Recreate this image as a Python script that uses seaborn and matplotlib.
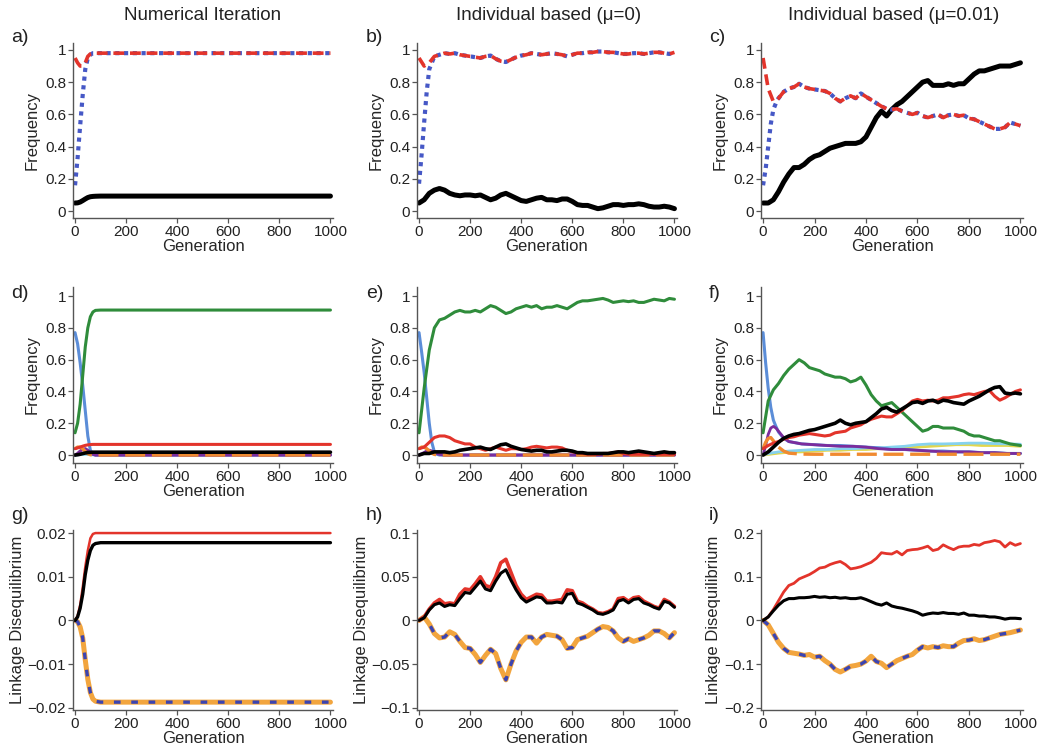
import numpy as np
import matplotlib
matplotlib.use("Agg")
import matplotlib.pyplot as plt
import seaborn as sns

sns.set_theme(style="ticks")
plt.rcParams['font.family'] = ['Liberation Sans', 'DejaVu Sans']
plt.rcParams['axes.unicode_minus'] = True

# ---------------- data ----------------
col_titles = ["Numerical Iteration", "Individual based (\u03bc=0)", "Individual based (\u03bc=0.01)"]
panel_tags = ["a)", "b)", "c)", "d)", "e)", "f)", "g)", "h)", "i)"]
x_ticks = [0, 200, 400, 600, 800, 1000]
x_ticklabels = ["0", "200", "400", "600", "800", "1000"]
freq_ticks = [0, 0.2, 0.4, 0.6, 0.8, 1]
freq_ticklabels = ["0", "0.2", "0.4", "0.6", "0.8", "1"]
ld_ticks_g = [-0.02, -0.01, 0, 0.01, 0.02]
ld_labels_g = ["\u22120.02", "\u22120.01", "0", "0.01", "0.02"]
ld_ticks_h = [-0.1, -0.05, 0, 0.05, 0.1]
ld_labels_h = ["\u22120.1", "\u22120.05", "0", "0.05", "0.1"]
ld_ticks_i = [-0.2, -0.1, 0, 0.1, 0.2]
ld_labels_i = ["\u22120.2", "\u22120.1", "0", "0.1", "0.2"]

gen_num = [0, 10, 20, 30, 40, 50, 60, 70, 80, 100, 200, 300, 400, 500, 600, 700, 800, 900, 1000]
gen20 = list(range(0, 1001, 20))
gen_early = [0, 10, 20, 30, 40, 50, 60, 80, 100, 150, 200, 250, 300, 350, 400, 450, 500,
             550, 600, 650, 700, 750, 800, 850, 900, 950, 1000]

# panel a
a_red = [0.95, 0.92, 0.90, 0.90, 0.92, 0.96, 0.975, 0.98, 0.98, 0.98, 0.98, 0.98, 0.98, 0.98, 0.98, 0.98, 0.98, 0.98, 0.98]
a_blue = [0.16, 0.33, 0.53, 0.72, 0.88, 0.95, 0.97, 0.98, 0.98, 0.98, 0.98, 0.98, 0.98, 0.98, 0.98, 0.98, 0.98, 0.98, 0.98]
a_black = [0.05, 0.051, 0.056, 0.065, 0.075, 0.084, 0.089, 0.091, 0.092, 0.093, 0.093, 0.093, 0.093, 0.093, 0.093, 0.093, 0.093, 0.093, 0.093]

# panel b
b_red = [0.95, 0.90, 0.92, 0.96, 0.97, 0.98, 0.975, 0.98, 0.97, 0.965, 0.96, 0.955, 0.95, 0.96, 0.965, 0.945, 0.93,
         0.925, 0.94, 0.955, 0.965, 0.97, 0.98, 0.975, 0.97, 0.975, 0.98, 0.975, 0.97, 0.96, 0.97, 0.98, 0.98, 0.985,
         0.985, 0.99, 0.99, 0.985, 0.985, 0.98, 0.975, 0.975, 0.98, 0.98, 0.975, 0.98, 0.985, 0.985, 0.98, 0.975, 0.985]
b_blue_gen = [0, 10, 20, 30, 40]
b_blue_start = [0.17, 0.35, 0.55, 0.74, 0.88]
b_black = [0.05, 0.07, 0.11, 0.13, 0.14, 0.13, 0.11, 0.10, 0.095, 0.10, 0.10, 0.095, 0.10, 0.085, 0.07, 0.08, 0.10,
           0.11, 0.095, 0.08, 0.065, 0.06, 0.07, 0.08, 0.085, 0.07, 0.07, 0.065, 0.075, 0.075, 0.06, 0.04, 0.035,
           0.035, 0.025, 0.015, 0.02, 0.03, 0.04, 0.04, 0.035, 0.04, 0.04, 0.045, 0.04, 0.03, 0.025, 0.025, 0.03,
           0.025, 0.015]

# panel c
c_red = [0.95, 0.76, 0.68, 0.70, 0.74, 0.76, 0.77, 0.79, 0.77, 0.76, 0.755, 0.75, 0.745, 0.73, 0.70, 0.68, 0.70,
         0.715, 0.70, 0.73, 0.71, 0.69, 0.67, 0.65, 0.635, 0.63, 0.635, 0.62, 0.61, 0.60, 0.61, 0.59, 0.58, 0.59,
         0.60, 0.58, 0.595, 0.60, 0.59, 0.595, 0.575, 0.57, 0.555, 0.54, 0.525, 0.51, 0.51, 0.52, 0.55, 0.54, 0.53]
c_blue_gen = [0, 10, 20, 30, 40, 50]
c_blue_start = [0.16, 0.26, 0.40, 0.54, 0.63, 0.67]
c_black = [0.05, 0.05, 0.07, 0.12, 0.18, 0.23, 0.27, 0.27, 0.29, 0.32, 0.34, 0.35, 0.37, 0.39, 0.40, 0.41, 0.42,
           0.42, 0.42, 0.43, 0.46, 0.52, 0.58, 0.62, 0.59, 0.63, 0.66, 0.68, 0.71, 0.74, 0.77, 0.80, 0.81, 0.78,
           0.78, 0.78, 0.79, 0.78, 0.79, 0.79, 0.82, 0.85, 0.87, 0.87, 0.88, 0.89, 0.90, 0.90, 0.90, 0.91, 0.92]

# panel d
d_green = [0.14, 0.20, 0.32, 0.50, 0.68, 0.80, 0.87, 0.90, 0.91, 0.912, 0.912, 0.912, 0.912, 0.912, 0.912, 0.912, 0.912, 0.912, 0.912]
d_blue = [0.77, 0.70, 0.58, 0.44, 0.28, 0.12, 0.03, 0.005, 0.0, 0.0, 0.0, 0.0, 0.0, 0.0, 0.0, 0.0, 0.0, 0.0, 0.0]
d_red = [0.04, 0.045, 0.05, 0.056, 0.061, 0.064, 0.066, 0.067, 0.067, 0.067, 0.067, 0.067, 0.067, 0.067, 0.067, 0.067, 0.067, 0.067, 0.067]
d_black = [0.0, 0.002, 0.005, 0.009, 0.013, 0.016, 0.017, 0.018, 0.018, 0.018, 0.018, 0.018, 0.018, 0.018, 0.018, 0.018, 0.018, 0.018, 0.018]
d_orange = [0.04, 0.05, 0.05, 0.04, 0.022, 0.008, 0.002, 0.0, 0.0, 0.0, 0.0, 0.0, 0.0, 0.0, 0.0, 0.0, 0.0, 0.0, 0.0]
d_purple = [0.0, 0.01, 0.025, 0.035, 0.04, 0.03, 0.015, 0.005, 0.0, 0.0, 0.0, 0.0, 0.0, 0.0, 0.0, 0.0, 0.0, 0.0, 0.0]
d_cyan = [0.0, 0.002, 0.004, 0.005, 0.005, 0.004, 0.003, 0.002, 0.002, 0.002, 0.002, 0.002, 0.002, 0.002, 0.002, 0.002, 0.002, 0.002, 0.002]

# panel e
e_green = [0.14, 0.42, 0.66, 0.80, 0.85, 0.86, 0.88, 0.90, 0.91, 0.90, 0.90, 0.91, 0.90, 0.92, 0.94, 0.93, 0.91,
           0.89, 0.90, 0.92, 0.93, 0.94, 0.93, 0.94, 0.92, 0.93, 0.93, 0.94, 0.93, 0.92, 0.94, 0.96, 0.97, 0.97,
           0.975, 0.98, 0.985, 0.975, 0.96, 0.965, 0.97, 0.965, 0.97, 0.96, 0.96, 0.97, 0.98, 0.975, 0.97, 0.985, 0.98]
e_blue_gen = [0, 10, 20, 30, 40, 50, 60, 70, 80, 1000]
e_blue = [0.77, 0.65, 0.52, 0.36, 0.20, 0.08, 0.02, 0.005, 0.0, 0.0]
e_red = [0.04, 0.05, 0.08, 0.11, 0.12, 0.12, 0.11, 0.09, 0.08, 0.07, 0.07, 0.05, 0.04, 0.03, 0.04, 0.05, 0.04,
         0.03, 0.04, 0.04, 0.035, 0.04, 0.05, 0.055, 0.05, 0.045, 0.05, 0.05, 0.045, 0.03, 0.02, 0.015, 0.01,
         0.005, 0.005, 0.005, 0.01, 0.01, 0.015, 0.02, 0.01, 0.005, 0.005, 0.005, 0.005, 0.005, 0.005, 0.005,
         0.005, 0.005, 0.005]
e_black = [0.0, 0.01, 0.01, 0.02, 0.02, 0.02, 0.015, 0.02, 0.03, 0.035, 0.04, 0.045, 0.05, 0.04, 0.035, 0.05,
           0.065, 0.07, 0.055, 0.045, 0.035, 0.03, 0.025, 0.03, 0.03, 0.02, 0.02, 0.025, 0.03, 0.03, 0.025, 0.015,
           0.015, 0.01, 0.01, 0.01, 0.01, 0.01, 0.015, 0.02, 0.02, 0.015, 0.02, 0.025, 0.02, 0.015, 0.01, 0.015,
           0.02, 0.015, 0.015]
e_small_gen = [0, 10, 20, 30, 40, 50, 60, 80, 100, 1000]
e_orange = [0.04, 0.05, 0.05, 0.04, 0.025, 0.012, 0.004, 0.0, 0.0, 0.0]
e_purple = [0.0, 0.008, 0.015, 0.025, 0.03, 0.025, 0.015, 0.005, 0.0, 0.0]

# panel f
f_green = [0.14, 0.34, 0.41, 0.45, 0.50, 0.54, 0.57, 0.60, 0.58, 0.55, 0.54, 0.53, 0.51, 0.50, 0.49, 0.49, 0.48,
           0.46, 0.47, 0.49, 0.44, 0.38, 0.34, 0.31, 0.32, 0.33, 0.30, 0.27, 0.24, 0.21, 0.18, 0.15, 0.16, 0.18,
           0.18, 0.17, 0.17, 0.17, 0.16, 0.15, 0.13, 0.12, 0.12, 0.11, 0.10, 0.09, 0.09, 0.08, 0.07, 0.065, 0.06]
f_red = [0.04, 0.06, 0.075, 0.085, 0.10, 0.11, 0.115, 0.125, 0.13, 0.135, 0.13, 0.125, 0.12, 0.125, 0.14, 0.145,
         0.15, 0.17, 0.18, 0.19, 0.21, 0.225, 0.235, 0.245, 0.24, 0.24, 0.26, 0.28, 0.31, 0.34, 0.35, 0.34, 0.345,
         0.34, 0.345, 0.36, 0.36, 0.365, 0.37, 0.38, 0.385, 0.38, 0.39, 0.40, 0.405, 0.37, 0.345, 0.36, 0.38, 0.40, 0.41]
f_black = [0.0, 0.02, 0.05, 0.08, 0.105, 0.12, 0.13, 0.135, 0.145, 0.155, 0.16, 0.17, 0.18, 0.19, 0.20, 0.22, 0.20,
           0.19, 0.20, 0.205, 0.21, 0.235, 0.26, 0.29, 0.30, 0.28, 0.27, 0.29, 0.31, 0.33, 0.335, 0.325, 0.34,
           0.345, 0.33, 0.345, 0.34, 0.33, 0.325, 0.32, 0.34, 0.355, 0.37, 0.39, 0.41, 0.425, 0.43, 0.39, 0.385,
           0.39, 0.385]
f_blue = [0.77, 0.58, 0.42, 0.30, 0.22, 0.18, 0.145, 0.105, 0.085, 0.07, 0.065, 0.06, 0.06, 0.055, 0.05, 0.045,
          0.035, 0.035, 0.03, 0.025, 0.025, 0.02, 0.02, 0.015, 0.015, 0.01, 0.01]
f_purple = [0.0, 0.06, 0.13, 0.17, 0.18, 0.17, 0.15, 0.11, 0.085, 0.07, 0.065, 0.06, 0.055, 0.055, 0.05, 0.04,
            0.035, 0.035, 0.03, 0.025, 0.02, 0.02, 0.02, 0.015, 0.015, 0.01, 0.01]
f_orange = [0.04, 0.08, 0.105, 0.11, 0.09, 0.07, 0.05, 0.025, 0.012, 0.006, 0.005, 0.005, 0.005, 0.005, 0.005,
            0.005, 0.005, 0.005, 0.005, 0.005, 0.005, 0.005, 0.005, 0.005, 0.005, 0.005, 0.005]
f_cyan = [0.0, 0.005, 0.01, 0.012, 0.015, 0.017, 0.02, 0.022, 0.025, 0.03, 0.035, 0.035, 0.04, 0.04, 0.045, 0.045,
          0.05, 0.055, 0.065, 0.07, 0.07, 0.072, 0.075, 0.075, 0.072, 0.07, 0.068]
f_yellow = [0.0, 0.002, 0.004, 0.006, 0.008, 0.01, 0.012, 0.015, 0.018, 0.02, 0.025, 0.03, 0.03, 0.035, 0.035,
            0.04, 0.04, 0.045, 0.05, 0.055, 0.06, 0.065, 0.065, 0.06, 0.06, 0.06, 0.055]

# panel g
g_red = [0.0, 0.001, 0.0035, 0.0075, 0.0122, 0.016, 0.0188, 0.0198, 0.02, 0.02, 0.02, 0.02, 0.02, 0.02, 0.02, 0.02, 0.02, 0.02, 0.02]
g_black = [0.0, 0.0008, 0.0028, 0.006, 0.0105, 0.0138, 0.016, 0.0172, 0.0176, 0.0178, 0.0178, 0.0178, 0.0178, 0.0178, 0.0178, 0.0178, 0.0178, 0.0178, 0.0178]
g_orange = [0.0, -0.0003, -0.0015, -0.004, -0.009, -0.0135, -0.0165, -0.018, -0.0185, -0.0187, -0.0187, -0.0187, -0.0187, -0.0187, -0.0187, -0.0187, -0.0187, -0.0187, -0.0187]
g_blue = g_orange

# panel h
h_red = [0.0, 0.004, 0.013, 0.02, 0.024, 0.019, 0.02, 0.019, 0.03, 0.036, 0.035, 0.042, 0.05, 0.04, 0.038, 0.05,
         0.066, 0.07, 0.055, 0.04, 0.03, 0.024, 0.027, 0.03, 0.029, 0.022, 0.022, 0.023, 0.024, 0.035, 0.034, 0.022,
         0.02, 0.016, 0.013, 0.009, 0.008, 0.01, 0.013, 0.025, 0.026, 0.022, 0.026, 0.027, 0.022, 0.019, 0.016,
         0.014, 0.024, 0.021, 0.016]
h_black = [0.0, 0.003, 0.012, 0.018, 0.02, 0.016, 0.018, 0.017, 0.025, 0.032, 0.031, 0.038, 0.045, 0.036, 0.034,
           0.045, 0.054, 0.058, 0.046, 0.035, 0.026, 0.021, 0.024, 0.027, 0.026, 0.02, 0.02, 0.021, 0.02, 0.03,
           0.031, 0.02, 0.018, 0.015, 0.012, 0.008, 0.007, 0.009, 0.012, 0.022, 0.024, 0.02, 0.024, 0.025, 0.02,
           0.018, 0.015, 0.013, 0.022, 0.02, 0.015]
h_orange = [0.0, 0.004, -0.004, -0.015, -0.02, -0.019, -0.013, -0.016, -0.024, -0.031, -0.032, -0.039, -0.048,
            -0.04, -0.033, -0.038, -0.055, -0.068, -0.05, -0.035, -0.025, -0.019, -0.019, -0.026, -0.019, -0.016,
            -0.017, -0.018, -0.022, -0.032, -0.031, -0.022, -0.02, -0.018, -0.014, -0.01, -0.007, -0.008, -0.012,
            -0.02, -0.024, -0.021, -0.024, -0.022, -0.02, -0.017, -0.012, -0.012, -0.015, -0.02, -0.014]
h_blue = h_orange

# panel i
i_red = [0.0, 0.008, 0.025, 0.045, 0.065, 0.08, 0.085, 0.095, 0.10, 0.105, 0.112, 0.12, 0.122, 0.128, 0.132, 0.135,
         0.128, 0.118, 0.12, 0.123, 0.128, 0.133, 0.142, 0.155, 0.153, 0.152, 0.158, 0.15, 0.16, 0.162, 0.163, 0.166,
         0.17, 0.16, 0.163, 0.173, 0.167, 0.162, 0.168, 0.17, 0.17, 0.174, 0.172, 0.178, 0.18, 0.183, 0.18, 0.168,
         0.178, 0.172, 0.176]
i_black = [0.0, 0.008, 0.022, 0.035, 0.045, 0.05, 0.05, 0.052, 0.052, 0.053, 0.055, 0.053, 0.054, 0.052, 0.053,
           0.051, 0.052, 0.05, 0.05, 0.052, 0.048, 0.043, 0.038, 0.035, 0.04, 0.033, 0.03, 0.028, 0.025, 0.022,
           0.018, 0.012, 0.015, 0.017, 0.016, 0.018, 0.016, 0.016, 0.014, 0.017, 0.012, 0.012, 0.01, 0.01, 0.008,
           0.008, 0.006, 0.003, 0.005, 0.005, 0.004]
i_orange = [0.0, -0.01, -0.03, -0.05, -0.064, -0.073, -0.075, -0.077, -0.08, -0.078, -0.084, -0.082, -0.092, -0.1,
            -0.112, -0.118, -0.112, -0.105, -0.103, -0.1, -0.093, -0.082, -0.094, -0.098, -0.108, -0.1, -0.092,
            -0.087, -0.082, -0.078, -0.068, -0.06, -0.063, -0.06, -0.062, -0.058, -0.06, -0.06, -0.052, -0.046,
            -0.045, -0.042, -0.046, -0.044, -0.04, -0.036, -0.032, -0.03, -0.028, -0.025, -0.022]
i_blue = i_orange

# ---------------- styling ----------------
RED = "#e3342b"
BLUE_DOT = "#4658c6"
BLACK = "#000000"
GREEN = "#2f8c3b"
CORN = "#5b8dd8"
PURPLE = "#7b2c9c"
ORANGE = "#f08a30"
CYAN = "#86d2ee"
YELLOW = "#e2d64c"
ORANGE3 = "#f2a53e"
NAVY = "#3b44b2"

W, H = 1039, 752
fig = plt.figure(figsize=(W / 100, H / 100), dpi=100)

cols_px = [(73, 333), (417, 677), (761, 1023)]
rows_px = [(43, 218), (287, 463), (530, 710)]


def make_ax(r, c):
    l, rr = cols_px[c]
    t, b = rows_px[r]
    return fig.add_axes([l / W, 1 - b / H, (rr - l) / W, (b - t) / H])


def line(ax, x, y, color, lw, ls="-"):
    sns.lineplot(x=list(x), y=list(y), ax=ax, color=color, linewidth=lw, linestyle=ls,
                 estimator=None, sort=False, legend=False)


axes = [[make_ax(r, c) for c in range(3)] for r in range(3)]

RED_DASH = (0, (3.0, 1.6))
BLUE_DOTS = (0, (1.0, 1.1))
OR_DASH = (0, (6, 2))
NAVY_DASH = (0, (2, 3.2))

# Row 1
ax = axes[0][0]
line(ax, gen_num, a_black, BLACK, 3.6)
line(ax, gen_num, a_blue, BLUE_DOT, 3.0, BLUE_DOTS)
line(ax, gen_num, a_red, RED, 2.6, RED_DASH)

ax = axes[0][1]
line(ax, gen20, b_black, BLACK, 3.6)
line(ax, b_blue_gen + gen20[3:], b_blue_start + b_red[3:], BLUE_DOT, 3.0, BLUE_DOTS)
line(ax, gen20, b_red, RED, 2.6, RED_DASH)

ax = axes[0][2]
line(ax, gen20, c_black, BLACK, 3.6)
line(ax, c_blue_gen + gen20[3:], c_blue_start + c_red[3:], BLUE_DOT, 3.0, BLUE_DOTS)
line(ax, gen20, c_red, RED, 2.6, RED_DASH)

# Row 2
ax = axes[1][0]
line(ax, gen_num, d_cyan, CYAN, 2.2)
line(ax, gen_num, d_blue, CORN, 2.2)
line(ax, gen_num, d_purple, PURPLE, 2.2)
line(ax, gen_num, d_orange, ORANGE, 2.4, OR_DASH)
line(ax, gen_num, d_green, GREEN, 2.2)
line(ax, gen_num, d_red, RED, 2.2)
line(ax, gen_num, d_black, BLACK, 2.6)

ax = axes[1][1]
line(ax, e_blue_gen, e_blue, CORN, 2.2)
line(ax, e_small_gen, e_purple, PURPLE, 2.2)
line(ax, e_small_gen, e_orange, ORANGE, 2.4, OR_DASH)
line(ax, gen20, e_green, GREEN, 2.2)
line(ax, gen20, e_red, RED, 2.2)
line(ax, gen20, e_black, BLACK, 2.6)

ax = axes[1][2]
line(ax, gen_early, f_yellow, YELLOW, 2.0)
line(ax, gen_early, f_cyan, CYAN, 2.0)
line(ax, gen_early, f_blue, CORN, 2.2)
line(ax, gen_early, f_purple, PURPLE, 2.0)
line(ax, gen_early, f_orange, ORANGE, 2.4, OR_DASH)
line(ax, gen20, f_green, GREEN, 2.2)
line(ax, gen20, f_red, RED, 2.2)
line(ax, gen20, f_black, BLACK, 2.6)

# Row 3
ax = axes[2][0]
line(ax, gen_num, g_orange, ORANGE3, 3.6)
line(ax, gen_num, g_blue, NAVY, 2.4, NAVY_DASH)
line(ax, gen_num, g_red, RED, 1.8)
line(ax, gen_num, g_black, BLACK, 2.4)

ax = axes[2][1]
line(ax, gen20, h_orange, ORANGE3, 3.6)
line(ax, gen20, h_blue, NAVY, 2.4, NAVY_DASH)
line(ax, gen20, h_red, RED, 2.6)
line(ax, gen20, h_black, BLACK, 2.2)

ax = axes[2][2]
line(ax, gen20, i_orange, ORANGE3, 3.6)
line(ax, gen20, i_blue, NAVY, 2.4, NAVY_DASH)
line(ax, gen20, i_red, RED, 2.0)
line(ax, gen20, i_black, BLACK, 2.2)

# ---------------- axes formatting ----------------
ylims = [(-0.043, 1.043), (-0.05, 1.057)]
ld_specs = [(ld_ticks_g, ld_labels_g, (-0.0205, 0.0207)),
            (ld_ticks_h, ld_labels_h, (-0.1025, 0.1035)),
            (ld_ticks_i, ld_labels_i, (-0.205, 0.207))]

for r in range(3):
    for c in range(3):
        ax = axes[r][c]
        ax.set_xlim(-8, 1010)
        ax.set_xticks(x_ticks)
        ax.set_xticklabels(x_ticklabels)
        if r < 2:
            ax.set_ylim(*ylims[r])
            ax.set_yticks(freq_ticks)
            ax.set_yticklabels(freq_ticklabels)
            ax.set_ylabel("Frequency", fontsize=12, labelpad=4)
        else:
            tk, lb, yl = ld_specs[c]
            ax.set_ylim(*yl)
            ax.set_yticks(tk)
            ax.set_yticklabels(lb)
            ax.set_ylabel("Linkage Disequilibrium", fontsize=12, labelpad=2)
        ax.set_xlabel("Generation", fontsize=12, labelpad=0)
        sns.despine(ax=ax)
        for s in ["left", "bottom"]:
            ax.spines[s].set_color("#555555")
            ax.spines[s].set_linewidth(1.0)
        ax.tick_params(axis="both", direction="out", length=3.5, width=0.9, color="#555555",
                       labelsize=11, labelcolor="#222222", pad=1.5)
        ax.set_facecolor("white")
        ax.patch.set_alpha(0)

# titles and panel tags
title_x = [203, 549, 894]
for c in range(3):
    fig.text(title_x[c] / W, 1 - 15 / H, col_titles[c], ha="center", va="center", fontsize=13.5, color="#222222")

tag_x = [11, 366, 709]
tag_y = [38, 293, 515]
for r in range(3):
    for c in range(3):
        fig.text(tag_x[c] / W, 1 - tag_y[r] / H, panel_tags[r * 3 + c], ha="left", va="center",
                 fontsize=14, color="#222222")

fig.savefig("out.png", dpi=100, facecolor="white")
